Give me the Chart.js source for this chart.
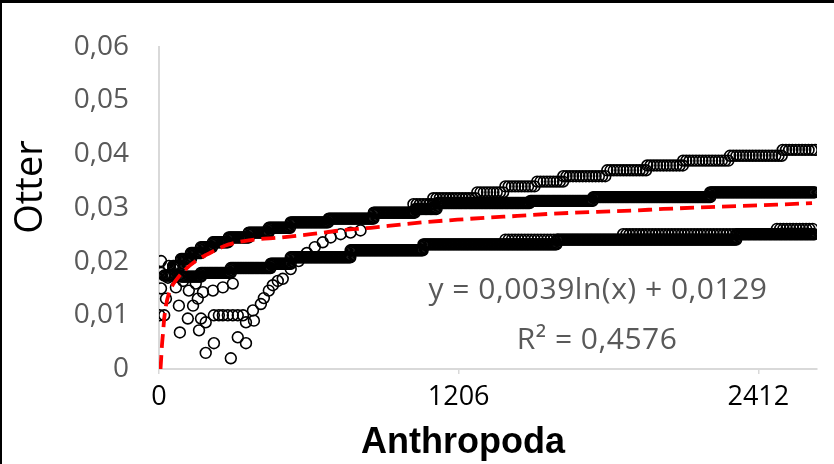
<!DOCTYPE html>
<html>
<head>
<meta charset="utf-8">
<script src="https://cdn.jsdelivr.net/npm/chart.js@4.4.0/dist/chart.umd.min.js"></script>
<style>
  html, body { margin: 0; padding: 0; background: #fff; }
  #wrap { position: relative; width: 834px; height: 464px; }
  #frame { position: absolute; left: 0; top: 0; width: 834px; height: 464px; box-sizing: border-box;
           border-top: 3px solid #000; border-left: 2px solid #000; pointer-events: none; }
</style>
</head>
<body>
<div id="wrap">
  <canvas id="chart" width="834" height="464"></canvas>
  <div id="frame"></div>
</div>
<script>
// Axis setup
const xTicks = [0, 1206, 2412];
const xMax = 2648;
const yMax = 0.06;
const xTitle = "Anthropoda";
const yTitle = "Otter";
const eqLines = ["y = 0,0039ln(x) + 0,0129", "R² = 0,4576"];

// Dense band (upper, ends ~0,033): runs of equal value
const aFrom  = [21, 57, 89, 129, 169, 217, 281, 361, 442, 530, 683, 864, 1032, 1121, 1495, 1748, 2218];
const aTo    = [57, 89, 129, 169, 217, 281, 361, 442, 530, 683, 864, 1032, 1121, 1495, 1748, 2218, 2640];
const aLevel = [0.0174, 0.0192, 0.0205, 0.0216, 0.0227, 0.0236, 0.0245, 0.0254, 0.0263, 0.0273, 0.0280, 0.0291, 0.0298, 0.0309, 0.0313, 0.0320, 0.0329];

// Sparse band on top (ends ~0,041)
const bFrom  = [1024, 1104, 1281, 1394, 1522, 1627, 1804, 1965, 2109, 2298, 2510];
const bTo    = [1104, 1281, 1394, 1522, 1627, 1804, 1965, 2109, 2298, 2510, 2640];
const bLevel = [0.0307, 0.0318, 0.0329, 0.0340, 0.0349, 0.0359, 0.0370, 0.0379, 0.0388, 0.0397, 0.0408];

// Dense lower band (ends ~0,0255)
const cFrom  = [89, 169, 289, 450, 530, 771, 1064, 1603, 2326];
const cTo    = [169, 289, 450, 530, 771, 1064, 1603, 2326, 2640];
const cLevel = [0.0172, 0.0179, 0.0188, 0.0196, 0.0208, 0.0221, 0.0232, 0.0241, 0.0251];

// Sparse circles sitting on the lower band
const dFrom  = [1394, 1868, 2487];
const dTo    = [1603, 2326, 2640];
const dLevel = [0.0241, 0.0251, 0.0261];

// Loose points near the origin and the rising arc
const looseX = [8, 8, 8, 2, 21, 40, 36, 68, 28, 80, 84, 116, 137, 156, 161, 169, 188, 188, 221,
                221, 241, 257, 277, 297, 317, 338, 289, 317, 350, 350, 382, 378, 410, 422, 442, 458, 478,
                498, 530, 562, 595, 627, 659, 691, 731, 771, 811,
                57, 97, 120, 148, 177, 217, 257, 297];
const looseY = [0.0201, 0.0179, 0.0150, 0.0100, 0.0100, 0.0192, 0.0170, 0.0152, 0.0131, 0.0118, 0.0068, 0.0094, 0.0118, 0.0131, 0.0072, 0.0094, 0.0087, 0.0030, 0.0048,
                0.0100, 0.0100, 0.0100, 0.0100, 0.0100, 0.0100, 0.0100, 0.0020, 0.0059, 0.0048, 0.0087, 0.0090, 0.0109, 0.0121, 0.0132, 0.0146, 0.0156, 0.0164,
                0.0168, 0.0186, 0.0201, 0.0216, 0.0227, 0.0236, 0.0245, 0.0251, 0.0254, 0.0258,
                0.0187, 0.0164, 0.0146, 0.0159, 0.0143, 0.0146, 0.0152, 0.0159];

// Trend line
const trendX = [6, 8, 12, 16, 21, 28, 40, 52, 68, 101, 148, 217, 281, 370, 490, 610, 731, 852, 973, 1081, 1201, 1322, 1442, 1575, 1788, 1908, 2029, 2246, 2487, 2628];
const trendY = [0, 0.0014, 0.0045, 0.0066, 0.0094, 0.0118, 0.0141, 0.0154, 0.0165, 0.0183, 0.0201, 0.0219, 0.0232, 0.0240, 0.0245, 0.0251, 0.0258, 0.0263, 0.0269, 0.0274, 0.0278, 0.0282, 0.0285, 0.0289, 0.0293, 0.0295, 0.0298, 0.0302, 0.0306, 0.0309];

// expand run lists into points
function runs(from, to, level, step) {
    const pts = [];
    for (let i = 0; i < level.length; i++) {
        for (let x = from[i]; x <= to[i]; x += step) pts.push({ x: x, y: level[i] });
    }
    return pts;
}

const circle = {
    pointStyle: 'circle',
    pointRadius: 5.4,
    pointBorderWidth: 1.6,
    pointBorderColor: '#000',
    pointBackgroundColor: 'rgba(0,0,0,0)',
    borderColor: '#000',
    showLine: false
};

const textPlugin = {
    id: 'texts',
    afterDraw(chart) {
        const c = chart.ctx;
        c.save();
        c.textAlign = 'center';
        c.textBaseline = 'middle';
        c.fillStyle = '#595959';
        c.font = '30px "Open Sans"';
        c.letterSpacing = '0.5px';
        c.fillText(eqLines[0], 598, 290);
        c.fillText(eqLines[1], 597, 340);
        c.letterSpacing = '0px';
        c.fillStyle = '#000';
        c.font = 'bold 36px "Liberation Sans"';
        c.fillText(xTitle, 463, 443);
        c.translate(31, 187);
        c.rotate(-Math.PI / 2);
        c.font = '38px "Open Sans"';
        c.fillText(yTitle, 0, 0);
        c.restore();
    }
};

const fmtY = v => v === 0 ? '0' : v.toFixed(2).replace('.', ',');

new Chart(document.getElementById('chart').getContext('2d'), {
    type: 'scatter',
    data: {
        datasets: [
            {
                data: trendX.map((x, i) => ({ x: x, y: trendY[i] })),
                showLine: true,
                borderColor: '#ff0000',
                borderWidth: 3.8,
                borderDash: [14, 7],
                pointRadius: 0,
                cubicInterpolationMode: 'monotone',
                fill: false
            },
            Object.assign({ data: runs(aFrom, aTo, aLevel, 5) }, circle),
            Object.assign({ data: runs(bFrom, bTo, bLevel, 13) }, circle),
            Object.assign({ data: runs(cFrom, cTo, cLevel, 5) }, circle),
            Object.assign({ data: runs(dFrom, dTo, dLevel, 13) }, circle),
            Object.assign({ data: looseX.map((x, i) => ({ x: x, y: looseY[i] })) }, circle)
        ]
    },
    options: {
        responsive: false,
        animation: false,
        events: [],
        layout: { padding: { left: 0, right: 17, top: 43, bottom: 0 } },
        plugins: { legend: { display: false }, tooltip: { enabled: false } },
        scales: {
            x: {
                type: 'linear',
                min: 0,
                max: xMax,
                afterBuildTicks: s => { s.ticks = xTicks.map(v => ({ value: v })); },
                afterFit: s => { s.height = 95; },
                ticks: {
                    color: '#000',
                    font: { family: 'Open Sans', size: 27 },
                    padding: 7,
                    maxRotation: 0,
                    autoSkip: false,
                    callback: v => String(v)
                },
                grid: { display: true, drawOnChartArea: false, drawTicks: true, tickLength: 5, color: '#d9d9d9', lineWidth: 1.5 },
                border: { display: true, color: '#d9d9d9', width: 2 }
            },
            y: {
                min: 0,
                max: yMax,
                afterFit: s => { s.width = 159; },
                ticks: {
                    stepSize: 0.01,
                    color: '#595959',
                    font: { family: 'Open Sans', size: 28 },
                    padding: 30,
                    callback: fmtY
                },
                grid: { display: false, drawTicks: false },
                border: { display: true, color: '#d9d9d9', width: 2 }
            }
        }
    },
    plugins: [textPlugin]
});
</script>
</body>
</html>
